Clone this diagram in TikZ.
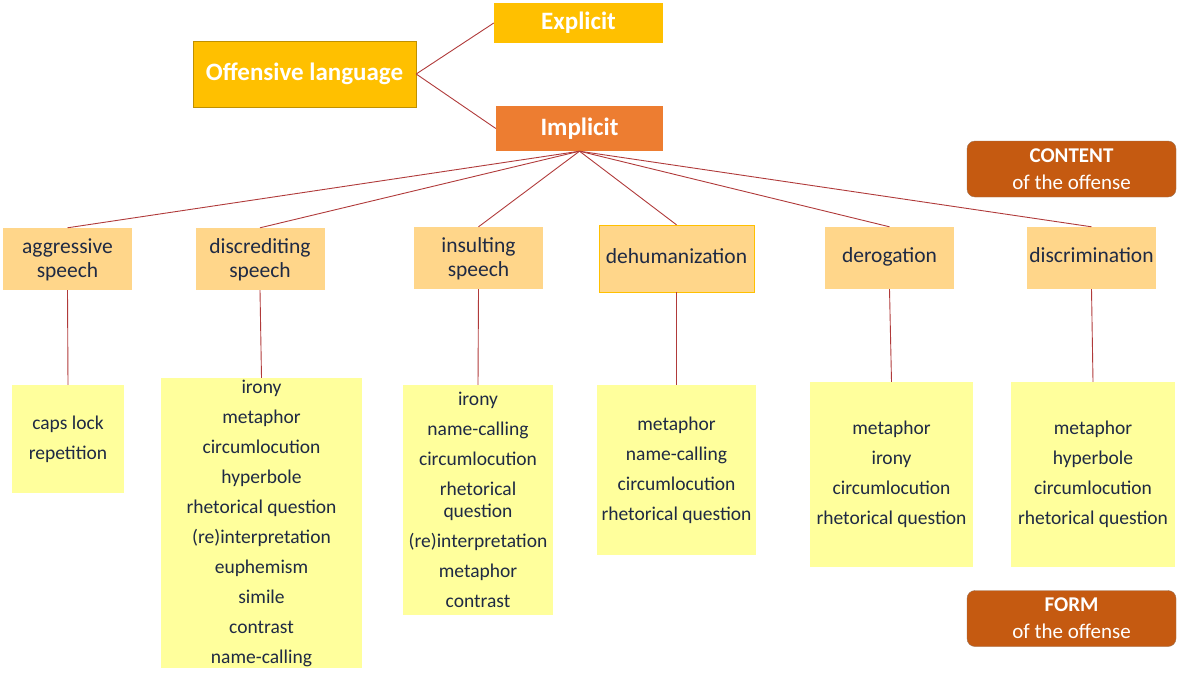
\documentclass[tikz,border=0pt]{standalone}
\usepackage{fontspec}
\setmainfont{Carlito}
\definecolor{gold}{HTML}{FFC000}
\definecolor{golddark}{HTML}{BF9000}
\definecolor{implorange}{HTML}{ED7D31}
\definecolor{rust}{HTML}{C55A11}
\definecolor{catfill}{HTML}{FFD68A}
\definecolor{leaffill}{HTML}{FFFF9C}
\definecolor{linkred}{HTML}{B03A3A}
\definecolor{ink}{HTML}{1F2A44}
\begin{document}
\begin{tikzpicture}[x=1pt,y=-1pt,
  top/.style={fill=#1,text=white,font=\fontsize{25}{28}\selectfont\bfseries,inner sep=0pt},
  cat/.style={fill=catfill,text=ink,align=center,inner sep=0pt,minimum width=129pt,minimum height=62pt,font=\fontsize{21.5}{24}\selectfont},
  leaf/.style={fill=leaffill,text=ink,align=center,inner sep=0pt,font=\fontsize{19.5}{30}\selectfont},
  tag/.style={fill=rust,draw=gray!60!rust,rounded corners=8pt,text=white,align=center,inner sep=0pt,minimum width=209pt,minimum height=56pt,font=\fontsize{21}{27}\selectfont},
  link/.style={draw=linkred,line width=0.9pt}]
\useasboundingbox (0,0) rectangle (1177,672);
% top of the tree
\node[top=gold,draw=golddark,minimum width=223pt,minimum height=66pt] (offensive) at (304.5,74) {Offensive language};
\node[top=gold,minimum width=169pt,minimum height=40pt] (explicit) at (578.5,23) {Explicit};
\node[top=implorange,minimum width=167pt,minimum height=45pt] (implicit) at (579.5,128.5) {Implicit};
\draw[link] (offensive.east)--(explicit.west);
\draw[link] (offensive.east)--(implicit.west);
% content / form labels
\node[tag] (content) at (1071.5,169) {\textbf{CONTENT}\\of the offense};
\node[tag] (form) at (1071.5,618.5) {\textbf{FORM}\\of the offense};
% categories
\node[cat] (aggr) at (67.5,259) {\strut aggressive\\speech};
\node[cat] (discr) at (260,259) {\strut discrediting\\speech};
\node[cat] (insult) at (478.5,258) {\strut insulting\\speech};
\node[cat,draw=gold,minimum width=155pt,minimum height=67pt] (dehum) at (676.5,258.5) {\strut dehumanization};
\node[cat] (derog) at (889.5,258) {\strut derogation};
\node[cat] (discrim) at (1091.5,258) {\strut discrimination};
\foreach \c in {aggr,discr,insult,dehum,derog,discrim}{\draw[link] (implicit.south)--(\c.north);}
% forms
\node[leaf,minimum width=112pt,minimum height=108pt] (aggrL) at (68,439) {caps lock\\repetition};
\node[leaf,minimum width=201pt,minimum height=290pt] (discrL) at (261.5,523) {irony\\metaphor\\circumlocution\\hyperbole\\rhetorical question\\(re)interpretation\\euphemism\\simile\\contrast\\name-calling};
\node[leaf,minimum width=150pt,minimum height=230pt] (insultL) at (478,500) {irony\\name-calling\\circumlocution\\rhetorical\\[-8pt]question\\(re)interpretation\\metaphor\\contrast};
\node[leaf,minimum width=159pt,minimum height=170pt] (dehumL) at (676.5,470) {metaphor\\name-calling\\circumlocution\\rhetorical question};
\node[leaf,minimum width=163pt,minimum height=185pt] (derogL) at (891.5,474.5) {metaphor\\irony\\circumlocution\\rhetorical question};
\node[leaf,minimum width=164pt,minimum height=185pt] (discrimL) at (1093,474.5) {metaphor\\hyperbole\\circumlocution\\rhetorical question};
\foreach \c in {aggr,discr,insult,dehum,derog,discrim}{\draw[link] (\c.south)--(\c L.north);}
\end{tikzpicture}
\end{document}
